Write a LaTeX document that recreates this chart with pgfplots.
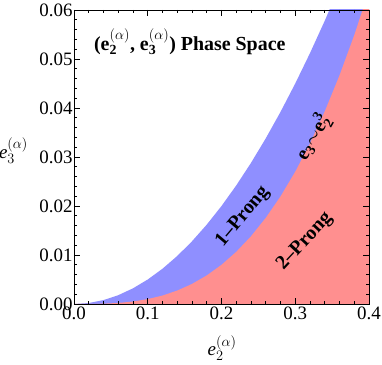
\documentclass[border=0pt]{standalone}
\usepackage{fontspec}
\setmainfont{Liberation Serif}
\usepackage{pgfplots}
\pgfplotsset{compat=1.18}
\definecolor{oneprong}{HTML}{8F8FFF}
\definecolor{twoprong}{HTML}{FF8F8F}
\begin{document}
\begin{tikzpicture}
\useasboundingbox (-74bp,-61bp) rectangle (308bp,304bp);
\begin{axis}[scale only axis,width=295bp,height=294bp,
 xmin=0,xmax=0.4,ymin=0,ymax=0.06,
 xtick={0,0.1,0.2,0.3,0.4},ytick={0,0.01,0.02,0.03,0.04,0.05,0.06},
 minor tick num=4,tick align=inside,
 major tick length=6bp,minor tick length=3.5bp,
 tick style={black,line width=0.8pt},
 axis line style={line width=0.9pt},
 xticklabel style={/pgf/number format/fixed,/pgf/number format/fixed zerofill,/pgf/number format/precision=1,yshift=1bp},
 yticklabel style={/pgf/number format/fixed,/pgf/number format/fixed zerofill,/pgf/number format/precision=2,xshift=2bp},
 scaled ticks=false,
 /pgf/number format/assume math mode=true,
 ticklabel style={font=\fontsize{19}{21}\selectfont},
 axis on top,clip mode=individual]
% 1-prong boundary, e3 ~ e2^2/2
\addplot[fill=oneprong,draw=none] coordinates {
(0,0)(0.02,0.0002)(0.04,0.0008)(0.06,0.0018)(0.08,0.0032)(0.10,0.005)(0.12,0.0072)
(0.14,0.0098)(0.16,0.0128)(0.18,0.0162)(0.20,0.02)(0.22,0.0242)(0.24,0.0288)
(0.26,0.0338)(0.28,0.0392)(0.30,0.045)(0.32,0.0512)(0.34,0.0578)(0.36,0.0648)
(0.38,0.0722)(0.40,0.08)(0.40,0)} -- cycle;
% 2-prong boundary, e3 ~ e2^3
\addplot[fill=twoprong,draw=none] coordinates {
(0,0)(0.02,0.000008)(0.04,0.000064)(0.06,0.000216)(0.08,0.000512)(0.10,0.001)
(0.12,0.001728)(0.14,0.002744)(0.16,0.004096)(0.18,0.005832)(0.20,0.008)
(0.22,0.010648)(0.24,0.013824)(0.26,0.017576)(0.28,0.021952)(0.30,0.027)
(0.32,0.032768)(0.34,0.039304)(0.36,0.046656)(0.38,0.054872)(0.40,0.064)(0.40,0)} -- cycle;
\node[font=\fontsize{20}{22}\selectfont\bfseries] at (axis cs:0.157,0.0535)
 {(e$_{\mathbf 2}^{(\alpha)}$, e$_{\mathbf 3}^{(\alpha)}$) Phase Space};
\node[font=\fontsize{20}{22}\selectfont\bfseries,rotate=50] at (axis cs:0.229,0.0178) {1--Prong};
\node[font=\fontsize{20}{22}\selectfont\bfseries,rotate=47] at (axis cs:0.313,0.0127) {2--Prong};
\node[font=\fontsize{20}{22}\selectfont\bfseries,rotate=60] at (axis cs:0.324,0.034)
 {e$_{\mathbf 3}$$\sim$e$_{\mathbf 2}^{\mathbf 3}$};
\node[font=\fontsize{19}{21}\selectfont] at (rel axis cs:-0.205,0.522) {\textit{e}$_3^{(\alpha)}$};
\node[font=\fontsize{19}{21}\selectfont] at (rel axis cs:0.502,-0.15) {\textit{e}$_2^{(\alpha)}$};
\end{axis}
\end{tikzpicture}
\end{document}
